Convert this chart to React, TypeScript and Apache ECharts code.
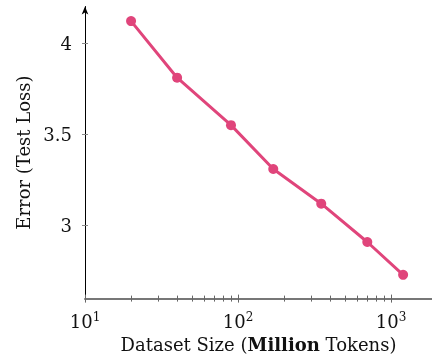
import React, { useEffect, useRef } from "react";
import * as echarts from "echarts";

const tokens = [20, 40, 90, 170, 350, 700, 1200];
const testLoss = [4.12, 3.81, 3.55, 3.31, 3.12, 2.91, 2.73];
const xMajorExp = [1, 2, 3];
const yTicks = [3, 3.5, 4];
const xMinor = [2, 3, 4, 5, 6, 7, 8, 9, 20, 30, 40, 50, 60, 70, 80, 90, 200, 300, 400, 500, 600, 700, 800, 900, 2000];

const FONT = "DejaVu Serif";
const X_MIN = 1;
const X_MAX = 1 + (432 - 85) / 153;
const Y_MIN = 2.6;
const Y_MAX = 4.2;

export default function App() {
  const ref = useRef<HTMLDivElement>(null);
  useEffect(() => {
    const chart = echarts.init(ref.current!, null, { renderer: "svg" });
    const data = tokens.map((t, i) => [Math.log10(t), testLoss[i]]);
    const minorLog = xMinor.map((v) => Math.log10(v)).filter((v) => v <= X_MAX);
    const baseX = { type: "value", position: "bottom", min: X_MIN, max: X_MAX, splitLine: { show: false } };
    const baseY = { type: "value", position: "left", min: Y_MIN, max: Y_MAX, splitLine: { show: false } };
    chart.setOption({
      animation: false,
      grid: { left: 85, right: 0, top: 6.5, bottom: 58.8, containLabel: false },
      xAxis: [
        {
          ...baseX,
          axisLine: { show: true, lineStyle: { color: "#777", width: 2 } },
          axisTick: { show: false },
          axisLabel: {
            customValues: xMajorExp,
            margin: 12,
            color: "#111",
            fontFamily: FONT,
            fontSize: 18,
            formatter: (v: number) => `10{sup|${Math.round(v)}}`,
            rich: {
              sup: { fontSize: 12, fontFamily: FONT, color: "#111", padding: [0, 0, 9, 0] },
            },
          },
          name: "Dataset Size ({b|Million} Tokens)",
          nameLocation: "middle",
          nameGap: 36,
          nameTextStyle: {
            color: "#111",
            fontFamily: FONT,
            fontSize: 18,
            rich: { b: { fontWeight: "bold", fontFamily: FONT, fontSize: 18, color: "#111" } },
          },
        },
        {
          ...baseX,
          offset: -4,
          axisLine: { show: false },
          axisLabel: { show: false },
          axisTick: { show: true, customValues: xMajorExp, length: 8, lineStyle: { color: "#666", width: 1 } },
        },
        {
          ...baseX,
          offset: -3,
          axisLine: { show: false },
          axisLabel: { show: false },
          axisTick: { show: true, customValues: minorLog, length: 6, lineStyle: { color: "#666", width: 1 } },
        },
      ],
      yAxis: [
        {
          ...baseY,
          axisLine: {
            show: true,
            lineStyle: { color: "#000", width: 1 },
            symbol: ["none", "arrow"],
            symbolSize: [5, 8],
          },
          axisTick: { show: false },
          axisLabel: {
            customValues: yTicks,
            margin: 13,
            color: "#111",
            fontFamily: FONT,
            fontSize: 18,
          },
          name: "Error (Test Loss)",
          nameLocation: "middle",
          nameGap: 52,
          nameTextStyle: { color: "#111", fontFamily: FONT, fontSize: 18 },
        },
        {
          ...baseY,
          offset: -3,
          axisLine: { show: false },
          axisLabel: { show: false },
          axisTick: { show: true, customValues: yTicks, length: 6, lineStyle: { color: "#888", width: 1 } },
        },
      ],
      series: [
        {
          type: "line",
          data,
          xAxisIndex: 0,
          yAxisIndex: 0,
          symbol: "circle",
          symbolSize: 10,
          lineStyle: { color: "#e0457b", width: 3 },
          itemStyle: { color: "#e0457b" },
        },
      ],
    });
    return () => chart.dispose();
  }, []);
  return <div ref={ref} style={{ position: "fixed", left: 0, top: 0, width: 432, height: 358 }} />;
}
